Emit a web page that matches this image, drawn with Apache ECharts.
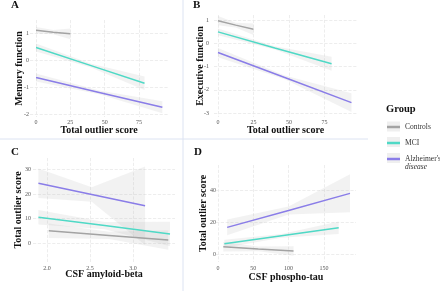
<!DOCTYPE html>
<html>
<head>
<meta charset="utf-8">
<script src="https://cdn.jsdelivr.net/npm/echarts@6/dist/echarts.min.js"></script>
<style>
  html, body { margin: 0; padding: 0; background: #fff; }
  #chart { width: 440px; height: 291px; }
</style>
</head>
<body>
<div id="chart"></div>
<script>
// groups, colours in the same order
const groupNames = ["Controls", "MCI", "Alzheimer's disease"];
const groupColors = ["#a3a3a3", "#4fd9c6", "#8a7de8"];

// A: memory function ~ total outlier score  (x at start / middle / end of each fit)
const memX = [[0, 12.5, 25], [0, 39.5, 79], [0, 46, 92]];
const memFit = [[1.1, 1.03, 0.97], [0.46, -0.2, -0.86], [-0.65, -1.2, -1.75]];
const memCI = [[0.12, 0.08, 0.2], [0.15, 0.07, 0.25], [0.15, 0.07, 0.22]];

// B: executive function ~ total outlier score
const exeX = [[0, 12.5, 25], [0, 40, 80], [0, 47, 94]];
const exeFit = [[0.97, 0.78, 0.6], [0.49, -0.2, -0.88], [-0.4, -1.47, -2.55]];
const exeCI = [[0.2, 0.1, 0.25], [0.15, 0.07, 0.3], [0.2, 0.08, 0.4]];

// C: total outlier score ~ CSF amyloid-beta
const abX = [[2.02, 2.72, 3.41], [1.9, 2.67, 3.43], [1.9, 2.52, 3.14]];
const abFit = [[5.0, 3.1, 1.2], [10.5, 7.1, 3.7], [24.4, 19.8, 15.2]];
const abCI = [[3, 1.5, 4], [3, 1.5, 5], [6, 3, 16]];

// D: total outlier score ~ CSF phospho-tau
const tauX = [[7.5, 57, 107], [9, 90, 171], [13, 100, 187]];
const tauFit = [[4.6, 3.2, 1.9], [6.5, 11.5, 16.6], [16.8, 27.5, 38.3]];
const tauCI = [[3, 1.5, 3], [2.5, 1.2, 4], [5, 2.5, 12]];

// tick labels
const ticksScore = [0, 25, 50, 75];
const ticksMem = [-2, -1, 0, 1];
const ticksExe = [-3, -2, -1, 0, 1];
const ticksAb = [2.0, 2.5, 3.0];
const ticksTau = [0, 50, 100, 150];
const ticksOut = [0, 10, 20, 30];
const ticksOutD = [0, 20, 40];

const font = "Liberation Serif";

const chart = echarts.init(document.getElementById("chart"));

function axis(gridIndex, min, max, ticks, name, nameGap, margin, fmt) {
  return {
    gridIndex: gridIndex,
    type: "value",
    min: min,
    max: max,
    name: name,
    nameLocation: "middle",
    nameGap: nameGap,
    nameMoveOverlap: false,
    nameTextStyle: { fontFamily: font, fontWeight: "bold", fontSize: 10, color: "#111" },
    axisLine: { show: false },
    axisTick: { show: false, customValues: ticks },
    axisLabel: {
      customValues: ticks,
      fontFamily: font,
      fontSize: 6,
      color: "#555",
      margin: margin,
      formatter: fmt,
    },
    splitLine: { show: true, lineStyle: { color: "#e8e8e8", type: "dashed", width: 0.8 } },
  };
}

// confidence band: one polygon per group, drawn through the axes
function renderBand(params, api) {
  const up = [], lo = [];
  for (let i = 0; i < 3; i++) {
    const x = api.value(i * 3);
    lo.push(api.coord([x, api.value(i * 3 + 1)]));
    up.push(api.coord([x, api.value(i * 3 + 2)]));
  }
  return {
    type: "polygon",
    shape: { points: up.concat(lo.reverse()) },
    style: { fill: "rgba(180,180,180,0.17)" },
  };
}

const series = [];
function addPanel(idx, xs, fits, cis) {
  for (let g = 0; g < 3; g++) {
    const row = [];
    xs[g].forEach((x, i) => row.push(x, fits[g][i] - cis[g][i], fits[g][i] + cis[g][i]));
    series.push({
      type: "custom", xAxisIndex: idx, yAxisIndex: idx, silent: true, z: 1,
      renderItem: renderBand, clip: true,
      encode: { x: [0, 3, 6], y: [1, 2, 4, 5, 7, 8] },
      data: [row],
    });
    series.push({
      type: "line", xAxisIndex: idx, yAxisIndex: idx, name: groupNames[g],
      data: xs[g].map((x, i) => [x, fits[g][i]]), symbol: "none", z: 3,
      lineStyle: { color: groupColors[g], width: 1.5 },
      itemStyle: { color: groupColors[g] },
    });
  }
}
addPanel(0, memX, memFit, memCI);
addPanel(1, exeX, exeFit, exeCI);
addPanel(2, abX, abFit, abCI);
addPanel(3, tauX, tauFit, tauCI);

const letter = (t, x, y) => ({
  text: t, left: x, top: y, padding: 0,
  textStyle: { fontFamily: font, fontWeight: "bold", fontSize: 11, color: "#111" },
});

chart.setOption({
  animation: false,
  title: [
    letter("A", 11, 0),
    letter("B", 193, 0),
    letter("C", 11, 147),
    letter("D", 194, 147),
    { text: "Group", left: 386, top: 104, padding: 0,
      textStyle: { fontFamily: font, fontWeight: "bold", fontSize: 10.5, color: "#111" } },
  ],
  grid: [
    { left: 30, top: 20, width: 138, height: 97 },
    { left: 214, top: 15, width: 143, height: 102 },
    { left: 33, top: 158, width: 142, height: 104 },
    { left: 216, top: 165, width: 140, height: 97 },
  ],
  xAxis: [
    axis(0, -4.4, 96.1, ticksScore, "Total outlier score", 8, 2),
    axis(1, -2.8, 97.9, ticksScore, "Total outlier score", 8, 2),
    axis(2, 1.837, 3.488, ticksAb, "CSF amyloid-beta", 7, 3, (v) => v.toFixed(1)),
    axis(3, -2.83, 195.5, ticksTau, "CSF phospho-tau", 10, 3),
  ],
  yAxis: [
    axis(0, -2.11, 1.48, ticksMem, "Memory function", 6, 1),
    axis(1, -3.17, 1.215, ticksExe, "Executive function", 9, 5),
    axis(2, -7.76, 34.7, ticksOut, "Total outlier score", 10, 2),
    axis(3, -5.05, 56.2, ticksOutD, "Total outlier score", 8, 0),
  ],
  legend: {
    data: groupNames,
    orient: "vertical",
    left: 387,
    top: 122,
    padding: 0,
    icon: "rect",
    itemWidth: 13,
    itemHeight: 2.5,
    itemGap: 6,
    selectedMode: false,
    textStyle: { fontFamily: font, fontSize: 7.5, color: "#333", lineHeight: 10 },
    formatter: (n) => (n === "Alzheimer's disease" ? "Alzheimer's" : n),
  },
  graphic: [
    { type: "line", shape: { x1: 183, y1: 0, x2: 183, y2: 291 }, style: { stroke: "#dce3f2", lineWidth: 1 } },
    { type: "line", shape: { x1: 0, y1: 139, x2: 368, y2: 139 }, style: { stroke: "#dce3f2", lineWidth: 1 } },
    { type: "rect", shape: { x: 387, y: 121.5, width: 13, height: 10 }, style: { fill: "#efefef" }, z: -1 },
    { type: "rect", shape: { x: 387, y: 137, width: 13, height: 10 }, style: { fill: "#efefef" }, z: -1 },
    { type: "rect", shape: { x: 387, y: 153, width: 13, height: 10 }, style: { fill: "#efefef" }, z: -1 },
    { type: "text", left: 405, top: 163,
      style: { text: "disease", fontFamily: font, fontSize: 7.5, fontStyle: "italic", fill: "#333" } },
  ],
  series: series,
});
</script>
</body>
</html>
